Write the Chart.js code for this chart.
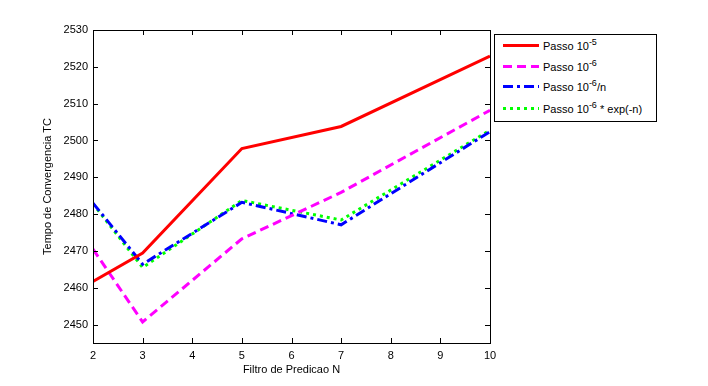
<!DOCTYPE html>
<html>
<head>
<meta charset="utf-8">
<script src="https://cdn.jsdelivr.net/npm/chart.js@4"></script>
<style>
  body { margin: 0; background: #fff; }
  #wrap { position: relative; width: 708px; height: 386px; }
  #legend {
    position: absolute; left: 494px; top: 34px; width: 161px; height: 86px;
    border: 1px solid #000; background: #fff;
    font-family: "Liberation Sans", Arial, sans-serif; font-size: 11px; color: #000;
  }
  .row { position: absolute; left: 0; height: 14px; width: 160px; }
  .row svg { position: absolute; left: 7px; top: 0; }
  .row span.txt { position: absolute; left: 48px; top: 1px; white-space: nowrap; }
  sup { font-size: 9px; vertical-align: 0; position: relative; top: -5px; }
</style>
</head>
<body>
<div id="wrap">
  <canvas id="chart" width="708" height="386"></canvas>
  <div id="legend"></div>
</div>
<script>
// filter sizes N on the x axis
const nValues = [2, 3, 5, 7, 10];

// convergence time for each step rule
const passo5 = [2461.7, 2469.4, 2497.8, 2503.8, 2522.9];
const passo6 = [2470.5, 2450.7, 2473.3, 2485.9, 2508.2];
const passo6n = [2483.0, 2466.4, 2483.2, 2477.1, 2502.4];
const passo6exp = [2482.8, 2465.5, 2483.7, 2478.4, 2502.8];

const xTicks = [2, 3, 4, 5, 6, 7, 8, 9, 10];
const yTicks = [2450, 2460, 2470, 2480, 2490, 2500, 2510, 2520, 2530];

const labelSup = ['-5', '-6', '-6', '-6'];
const labelTail = ['', '', '/n', ' * exp(-n)'];
const colors = ['#ff0000', '#ff00ff', '#0000ff', '#00ff00'];
const dashes = [[], [9, 5], [10, 4, 3, 4], [3, 4]];

const allSeries = [passo5, passo6, passo6n, passo6exp];

const font = { family: '"Liberation Sans", Arial, sans-serif', size: 11 };

const datasets = allSeries.map(function(vals, i) {
  return {
    label: 'Passo 10' + labelSup[i] + labelTail[i],
    data: vals.map((v, k) => ({ x: nValues[k], y: v })),
    borderColor: colors[i],
    borderWidth: 3,
    borderDash: dashes[i],
    pointRadius: 0,
    tension: 0,
    fill: false
  };
});

// box round the plot with inward ticks, like matlab
const boxPlugin = {
  id: 'box',
  afterDraw(chart) {
    const ctx = chart.ctx;
    const a = chart.chartArea;
    const xs = chart.scales.x, ys = chart.scales.y;
    ctx.save();
    ctx.strokeStyle = '#000';
    ctx.lineWidth = 1;
    ctx.strokeRect(Math.round(a.left) + 0.5, Math.round(a.top) + 0.5,
      Math.round(a.right - a.left), Math.round(a.bottom - a.top));
    ctx.beginPath();
    xTicks.forEach(function(t) {
      const px = Math.round(xs.getPixelForValue(t)) + 0.5;
      ctx.moveTo(px, a.bottom); ctx.lineTo(px, a.bottom - 5);
      ctx.moveTo(px, a.top); ctx.lineTo(px, a.top + 5);
    });
    yTicks.forEach(function(t) {
      const py = Math.round(ys.getPixelForValue(t)) + 0.5;
      ctx.moveTo(a.left, py); ctx.lineTo(a.left + 5, py);
      ctx.moveTo(a.right, py); ctx.lineTo(a.right - 5, py);
    });
    ctx.stroke();
    ctx.restore();
  }
};

new Chart(document.getElementById('chart'), {
  type: 'line',
  data: { datasets: datasets },
  plugins: [boxPlugin],
  options: {
    responsive: false,
    animation: false,
    layout: { padding: { left: 0, top: 30, right: 218, bottom: 0 } },
    plugins: { legend: { display: false }, tooltip: { enabled: false } },
    scales: {
      x: {
        type: 'linear', min: 2, max: 10,
        grid: { display: false, drawTicks: false },
        border: { display: false },
        afterBuildTicks: s => { s.ticks = xTicks.map(v => ({ value: v })); },
        afterFit: s => { s.height = 43; },
        ticks: { color: '#000', font: font, padding: 6, maxRotation: 0, callback: v => String(v) },
        title: { display: true, text: 'Filtro de Predicao N', color: '#000', font: font, padding: { top: 0, bottom: 9 } }
      },
      y: {
        type: 'linear', min: 2445, max: 2530,
        grid: { display: false, drawTicks: false },
        border: { display: false },
        afterBuildTicks: s => { s.ticks = yTicks.map(v => ({ value: v })); },
        afterFit: s => { s.width = 93; },
        ticks: { color: '#000', font: font, padding: 5, callback: v => String(v) },
        title: { display: true, text: 'Tempo de Convergencia TC', color: '#000', font: font, padding: { top: 41, bottom: 0 } }
      }
    }
  }
});

// legend with superscripts
const legend = document.getElementById('legend');
const rowTops = [4, 25, 45, 67];
datasets.forEach(function(ds, i) {
  const row = document.createElement('div');
  row.className = 'row';
  row.style.top = rowTops[i] + 'px';
  const dash = dashes[i].length ? dashes[i].join(',') : 'none';
  row.innerHTML = '<svg width="38" height="14"><line x1="1" y1="6.5" x2="37" y2="6.5" stroke="' + colors[i] +
    '" stroke-width="3" stroke-dasharray="' + dash + '"/></svg>' +
    '<span class="txt">Passo 10<sup>' + labelSup[i] + '</sup>' + labelTail[i] + '</span>';
  legend.appendChild(row);
});
</script>
</body>
</html>
